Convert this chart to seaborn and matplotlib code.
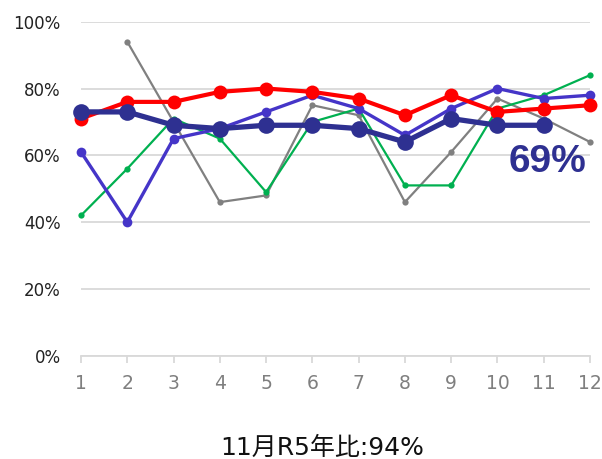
import os
import numpy as np
import pandas as pd
import matplotlib
matplotlib.use("Agg")
import matplotlib.pyplot as plt
from matplotlib import font_manager as fm
import seaborn as sns

months = list(range(1, 13))
gray_vals = [np.nan, 94, 70, 46, 48, 75, 72, 46, 61, 77, 71, 64]
green_vals = [42, 56, 71, 65, 49, 70, 74, 51, 51, 74, 78, 84]
blue_vals = [61, 40, 65, 68, 73, 78, 74, 66, 74, 80, 77, 78]
red_vals = [71, 76, 76, 79, 80, 79, 77, 72, 78, 73, 74, 75]
navy_vals = [73, 73, 69, 68, 69, 69, 68, 64, 71, 69, 69, np.nan]
annotation = "69%"
title_text = "11月R5年比:94%"
ytick_vals = [0, 20, 40, 60, 80, 100]

sns.set_theme(style="white")
plt.rcParams['font.family'] = ['DejaVu Sans', 'Noto Sans CJK JP']

# find regular-width Liberation Sans Bold by file name
bold_font = None
for f in fm.fontManager.ttflist:
    if os.path.basename(f.fname).lower() == "liberationsans-bold.ttf":
        bold_font = fm.FontProperties(fname=f.fname, size=28)
        break
if bold_font is None:
    bold_font = fm.FontProperties(family="DejaVu Sans", weight="bold", size=25)

fig = plt.figure(figsize=(6.02, 4.59), dpi=100)
ax = fig.add_axes([81/602, 1-355.8/459, (590-81)/602, (355.8-21.7)/459])

series = [
    (gray_vals, "#808080", 1.6, 4.5, 1),
    (green_vals, "#00B050", 1.6, 4.5, 2),
    (blue_vals, "#4535C8", 2.4, 7, 3),
    (red_vals, "#FF0000", 3.0, 10, 4),
    (navy_vals, "#2E3091", 3.8, 12, 5),
]
for vals, color, lw, ms, z in series:
    df = pd.DataFrame({"m": months, "v": vals}).dropna()
    sns.lineplot(data=df, x="m", y="v", ax=ax, color=color, linewidth=lw,
                 marker="o", markersize=ms, markeredgewidth=0,
                 zorder=z, clip_on=False, estimator=None, sort=False)

ax.set_xlim(1, 12)
ax.set_ylim(0, 100)
ax.set_yticks(ytick_vals)
ax.set_yticklabels([f"{v}%" for v in ytick_vals], fontsize=12, color="#222222")
ax.set_xticks(months)
ax.set_xticklabels([str(m) for m in months], fontsize=13.5, color="#7f7f7f")
ax.yaxis.grid(True, color="#d9d9d9", linewidth=1.3)
ax.xaxis.grid(False)
for s in ["top", "right", "left"]:
    ax.spines[s].set_visible(False)
ax.spines["bottom"].set_color("#d9d9d9")
ax.spines["bottom"].set_linewidth(1.3)
ax.tick_params(axis="x", which="major", bottom=True, length=5, width=1.3,
               color="#d9d9d9", pad=8)
ax.tick_params(axis="y", length=0, pad=14.5)
ax.set_xlabel("")
ax.set_ylabel("")

ax.text(547.5/602, 1-161.5/459, annotation, transform=fig.transFigure,
        ha="center", va="center", fontproperties=bold_font,
        color="#2E3091", zorder=10)

fig.text(322/602, 1-455/459, title_text, ha="center", va="baseline",
         fontsize=18, color="#111111", family=['DejaVu Sans', 'Noto Sans CJK JP'])

fig.savefig("out.png", dpi=100)
